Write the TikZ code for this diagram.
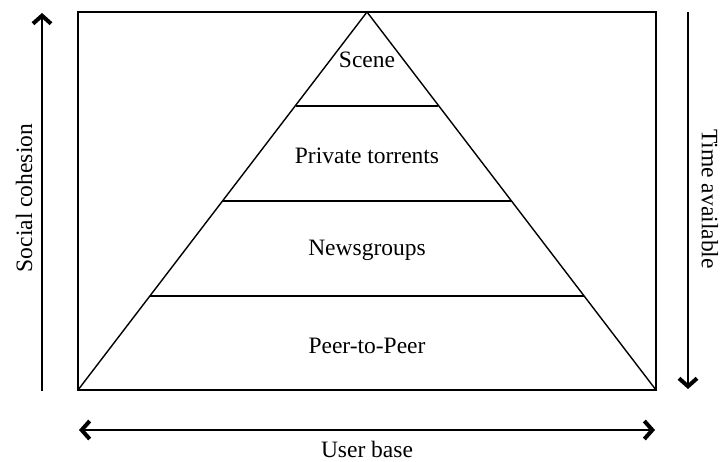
\documentclass[tikz,border=0pt]{standalone}
\usepackage{fontspec}
\setmainfont{Liberation Serif}
\usetikzlibrary{arrows.meta}
\begin{document}
\begin{tikzpicture}[x=1pt,y=-1pt,
  frame/.style={line width=1.4pt},
  barb/.tip={Straight Barb[length=8pt,width=18pt,line width=4pt]},
  axisarrow/.style={line width=2.4pt,-barb},
  bothaxis/.style={line width=2.4pt,barb-barb},
  tier/.style={font=\fontsize{23.5}{27}\selectfont},
  axislabel/.style={font=\fontsize{23.5}{27}\selectfont,inner sep=0pt}]
\useasboundingbox (0,0) rectangle (727,461);
% outer frame and pyramid
\coordinate (tl) at (78,12);
\coordinate (br) at (656,390);
\coordinate (apex) at (367,12);
\coordinate (bl) at (78,390);
\draw[frame] (tl) rectangle (br);
\draw[frame] (bl) -- (apex) -- (br);
% tier dividers
\draw[frame] (296,106) -- (438,106);
\draw[frame] (222,201) -- (512,201);
\draw[frame] (150,296) -- (584,296);
% tier labels
\node[tier] (scene) at (367,60) {Scene};
\node[tier] (priv) at (367,156) {Private torrents};
\node[tier] (news) at (367,250) {Newsgroups};
\node[tier] (p2p) at (367,346) {Peer-to-Peer};
% axes
\coordinate (lb) at (42,391);
\coordinate (lt) at (42,13);
\coordinate (rt) at (688,12);
\coordinate (rb) at (688,389);
\coordinate (bleft) at (79,430);
\coordinate (bright) at (655,430);
\draw[axisarrow] (lb) -- (lt);
\draw[axisarrow] (rt) -- (rb);
\draw[bothaxis] (bleft) -- (bright);
\node[axislabel,rotate=90] (social) at (24,198) {Social cohesion};
\node[axislabel,rotate=-90] (time) at (710,199) {Time available};
\node[axislabel] (users) at (367,449) {User base};
\end{tikzpicture}
\end{document}
